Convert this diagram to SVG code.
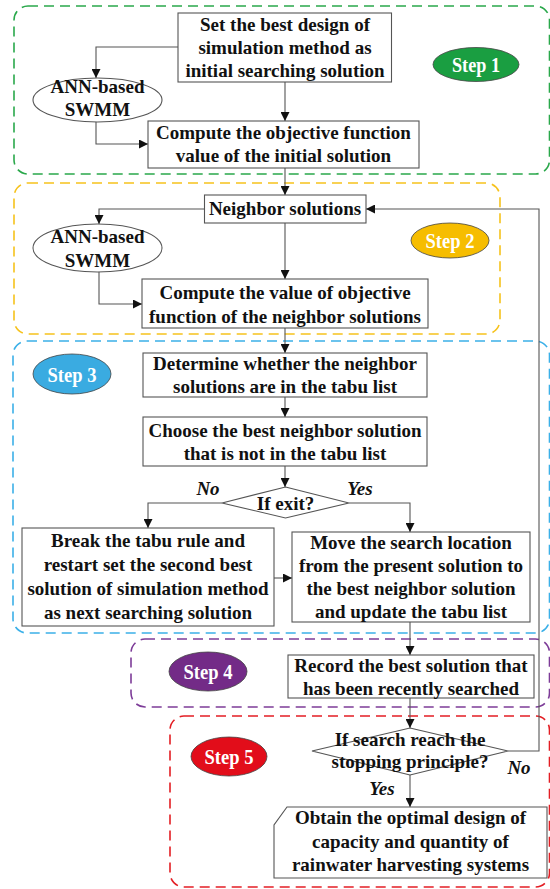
<svg xmlns="http://www.w3.org/2000/svg" width="550" height="889" viewBox="0 0 550 889">
<defs>
<marker id="ah" viewBox="0 0 10 10" refX="10" refY="5" markerWidth="9" markerHeight="9" markerUnits="userSpaceOnUse" orient="auto">
<path d="M0,0 L10,5 L0,10 z" fill="#111"/>
</marker>
</defs>
<style>
.grp{fill:none;stroke-width:1.6;stroke-dasharray:10 6}
.box{fill:#fff;stroke:#555;stroke-width:1.1}
.con{fill:none;stroke:#555;stroke-width:1.1;marker-end:url(#ah)}
.t{font-family:"Liberation Serif","Times New Roman",serif;font-weight:bold;font-size:19px;fill:#111;text-anchor:middle}
.it{font-style:italic}
.st{font-family:"Liberation Serif","Times New Roman",serif;font-weight:bold;font-size:22px;fill:#fff;text-anchor:middle}
.se{stroke:#444;stroke-width:0.8}
</style>
<rect width="550" height="889" fill="#fff"/>
<g id="groups">
<rect class="grp" x="14" y="6" width="535.5" height="168" rx="14" stroke="#2aa84b"/>
<rect class="grp" x="14" y="183" width="486" height="151" rx="14" stroke="#f6c21c"/>
<rect class="grp" x="13" y="341" width="536.5" height="292" rx="14" stroke="#3bb0e8"/>
<rect class="grp" x="131" y="639" width="418.5" height="68" rx="14" stroke="#7d3c98"/>
<rect class="grp" x="170" y="716" width="379.5" height="171" rx="14" stroke="#e31e24"/>
</g>
<g id="connectors">
<path class="con" d="M178,47 H96 V78"/>
<path class="con" d="M285,82 V121"/>
<path class="con" d="M96,120 V144 H148"/>
<path class="con" d="M285,168 V195"/>
<path class="con" d="M204.5,209 H99 V224"/>
<path class="con" d="M285,223 V279"/>
<path class="con" d="M99,272 V304 H142"/>
<path class="con" d="M285,328 V353"/>
<path class="con" d="M285,397 V417"/>
<path class="con" d="M285,466 V487"/>
<path class="con" d="M222,503 H148 V528"/>
<path class="con" d="M349,503 H410 V532"/>
<path class="con" d="M274,578 H292"/>
<path class="con" d="M410,622 V655"/>
<path class="con" d="M410,698 V728"/>
<path class="con" d="M410,775 V807"/>
<path class="con" d="M508,751 H539 V209 H366"/>
</g>
<g id="n_init">
<rect class="box" x="178" y="13" width="213.5" height="69"/>
<text class="t" x="285" y="31">Set the best design of</text>
<text class="t" x="285" y="54">simulation method as</text>
<text class="t" x="285" y="77">initial searching solution</text>
</g>
<g id="n_ann1">
<ellipse class="box" cx="97.5" cy="100" rx="64.5" ry="22"/>
<text class="t" x="97.5" y="93">ANN-based</text>
<text class="t" x="97.5" y="116">SWMM</text>
</g>
<g id="n_obj1">
<rect class="box" x="148" y="121" width="271" height="47"/>
<text class="t" x="283.5" y="139">Compute the objective function</text>
<text class="t" x="283.5" y="162">value of the initial solution</text>
</g>
<g id="step1">
<ellipse class="se" cx="476" cy="64.5" rx="43" ry="17" fill="#1a9e41"/>
<text class="st" x="476" y="72" textLength="48" lengthAdjust="spacingAndGlyphs">Step 1</text>
</g>
<g id="n_neigh">
<rect class="box" x="204.5" y="195" width="161.5" height="28"/>
<text class="t" x="285" y="215">Neighbor solutions</text>
</g>
<g id="n_ann2">
<ellipse class="box" cx="97.5" cy="248" rx="64.5" ry="24"/>
<text class="t" x="97.5" y="243">ANN-based</text>
<text class="t" x="97.5" y="267">SWMM</text>
</g>
<g id="n_obj2">
<rect class="box" x="142" y="279" width="286" height="49"/>
<text class="t" x="285" y="299">Compute the value of objective</text>
<text class="t" x="285" y="323">function of the neighbor solutions</text>
</g>
<g id="step2">
<ellipse class="se" cx="450" cy="240.5" rx="39" ry="17.5" fill="#f6bd00"/>
<text class="st" x="450" y="248" textLength="49" lengthAdjust="spacingAndGlyphs">Step 2</text>
</g>
<g id="step3">
<ellipse class="se" cx="72" cy="374" rx="39" ry="20" fill="#3aabe1"/>
<text class="st" x="72" y="382" textLength="49" lengthAdjust="spacingAndGlyphs">Step 3</text>
</g>
<g id="n_det">
<rect class="box" x="143" y="353" width="284" height="44"/>
<text class="t" x="285" y="370">Determine whether the neighbor</text>
<text class="t" x="285" y="393">solutions are in the tabu list</text>
</g>
<g id="n_choose">
<rect class="box" x="143" y="417" width="284" height="49"/>
<text class="t" x="285" y="437">Choose the best neighbor solution</text>
<text class="t" x="285" y="460">that is not in the tabu list</text>
</g>
<g id="n_exit">
<polygon class="box" points="285.5,487 349,503 285.5,518 222,503"/>
<text class="t" x="285.5" y="510">If exit?</text>
<text class="t it" x="208" y="495">No</text>
<text class="t it" x="360" y="495">Yes</text>
</g>
<g id="n_break">
<rect class="box" x="22" y="528" width="252" height="98"/>
<text class="t" x="148" y="547">Break the tabu rule and</text>
<text class="t" x="148" y="571">restart set the second best</text>
<text class="t" x="148" y="595">solution of simulation method</text>
<text class="t" x="148" y="619">as next searching solution</text>
</g>
<g id="n_move">
<rect class="box" x="292" y="532" width="238" height="90"/>
<text class="t" x="411" y="549">Move the search location</text>
<text class="t" x="411" y="572">from the present solution to</text>
<text class="t" x="411" y="595">the best neighbor solution</text>
<text class="t" x="411" y="618">and update the tabu list</text>
</g>
<g id="step4">
<ellipse class="se" cx="208" cy="671.5" rx="39" ry="19.5" fill="#732b87"/>
<text class="st" x="208" y="679" textLength="49" lengthAdjust="spacingAndGlyphs">Step 4</text>
</g>
<g id="n_record">
<rect class="box" x="288" y="655" width="246" height="43"/>
<text class="t" x="411" y="672">Record the best solution that</text>
<text class="t" x="411" y="695">has been recently searched</text>
</g>
<g id="step5">
<ellipse class="se" cx="229" cy="756.5" rx="38" ry="19.5" fill="#e20d1a"/>
<text class="st" x="229" y="764" textLength="49" lengthAdjust="spacingAndGlyphs">Step 5</text>
</g>
<g id="n_stop">
<polygon class="box" points="410,728 508,751 410,775 312,751"/>
<text class="t" x="410" y="746">If search reach the</text>
<text class="t" x="410" y="768">stopping principle?</text>
<text class="t it" x="519" y="774">No</text>
<text class="t it" x="382" y="795">Yes</text>
</g>
<g id="n_out">
<polygon class="box" points="287,807 547,807 547,878 274,878 274,825"/>
<text class="t" x="410.5" y="824">Obtain the optimal design of</text>
<text class="t" x="410.5" y="848">capacity and quantity of</text>
<text class="t" x="410.5" y="871">rainwater harvesting systems</text>
</g>
</svg>
